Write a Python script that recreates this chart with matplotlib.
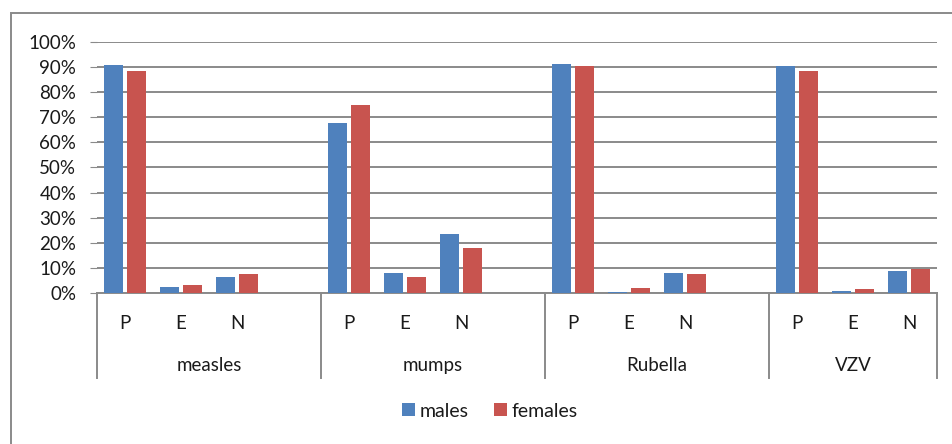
import matplotlib.pyplot as plt
from matplotlib.patches import Rectangle
from matplotlib.transforms import blended_transform_factory
import numpy as np

plt.rcParams['font.family'] = ['Lato', 'DejaVu Sans']

# data (percent)
diseases = ['measles', 'mumps', 'Rubella', 'VZV']
statuses = ['P', 'E', 'N']
males = [[90.7, 2.5, 6.3],
         [67.7, 8.0, 23.7],
         [91.3, 0.3, 8.0],
         [90.3, 0.8, 8.9]]
females = [[88.4, 3.3, 7.7],
           [74.9, 6.4, 18.0],
           [90.3, 2.1, 7.5],
           [88.3, 1.5, 9.6]]
yticks = [0, 10, 20, 30, 40, 50, 60, 70, 80, 90, 100]

blue = '#4F81BD'
red = '#C8544F'
grey = '#8A8A8A'
txt = '#1a1a1a'

W, H = 952, 444
fig = plt.figure(figsize=(W / 100, H / 100), dpi=100)
ax = fig.add_axes([97 / W, (H - 293) / H, (937 - 97) / W, (293 - 42) / H])

# each disease takes 4 slots (P, E, N, blank), last one has no blank
pos = []
for g in range(len(diseases)):
    pos.append([g * 4 + i for i in range(len(statuses))])
pos = np.array(pos)

bw = 0.34
ax.bar(pos.ravel() - 0.2, np.ravel(males), bw, color=blue, label='males', zorder=3)
ax.bar(pos.ravel() + 0.2, np.ravel(females), bw, color=red, label='females', zorder=3)

ax.set_xlim(-0.5, pos.max() + 0.5)
ax.set_ylim(0, 100)
ax.set_yticks(yticks)
ax.set_yticklabels([f'{v}%' for v in yticks], fontsize=13.5, color=txt)
ax.tick_params(axis='y', length=5, color=grey, pad=10)
ax.tick_params(axis='x', bottom=False, labelbottom=False)
ax.yaxis.grid(True, color=grey, lw=1.4)
ax.set_axisbelow(True)
for s in ['top', 'right', 'left']:
    ax.spines[s].set_visible(False)
ax.spines['bottom'].set_color(grey)
ax.spines['bottom'].set_linewidth(1.4)

# multi-level category axis
tr = blended_transform_factory(ax.transData, ax.transAxes)
for g, name in enumerate(diseases):
    for i, st in enumerate(statuses):
        ax.text(pos[g, i], -0.12, st, transform=tr, ha='center', va='center',
                fontsize=13.5, color=txt)
    left = pos[g, 0] - 0.5
    right = pos[g, 0] + 3.5 if g < len(diseases) - 1 else pos[g, -1] + 0.5
    ax.text((left + right) / 2, -0.29, name, transform=tr, ha='center', va='center',
            fontsize=13.5, color=txt)
    ax.plot([left, left], [0, -0.339], transform=tr, color=grey, lw=1.4, clip_on=False)
    if g == len(diseases) - 1:
        ax.plot([right, right], [0, -0.339], transform=tr, color=grey, lw=1.4, clip_on=False)

leg = fig.legend(loc='center', bbox_to_anchor=(490 / W, (H - 411) / H), ncol=2,
                 frameon=False, fontsize=14, handlelength=0.65, handleheight=0.65,
                 handletextpad=0.25, columnspacing=1.3, labelcolor=txt)

# outer chart border
fig.add_artist(Rectangle((11 / W, -0.1), 1.2, (H - 13) / H + 0.1, transform=fig.transFigure,
                         fill=False, ec=grey, lw=1.4))

fig.savefig('out.png', dpi=100)
